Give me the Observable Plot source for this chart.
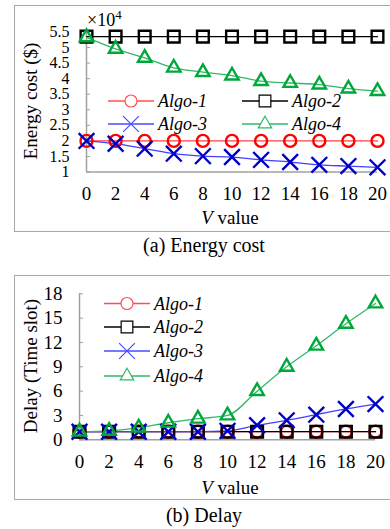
<!DOCTYPE html>
<html>
<head>
<meta charset="utf-8">
<script src="https://cdn.jsdelivr.net/npm/d3@7"></script>
<script src="https://cdn.jsdelivr.net/npm/@observablehq/plot@0.6"></script>
<style>
  html, body { margin: 0; padding: 0; background: #fff; }
  body { width: 390px; height: 529px; position: relative; overflow: hidden; font-family: "Liberation Serif", "DejaVu Serif", serif; }
  .frame { position: absolute; left: 14px; width: 420px; border: 1.5px solid #a8a8a8; box-sizing: border-box; }
  .cap { position: absolute; left: 0; width: 408px; text-align: center; font-size: 20px; line-height: 1; }
  .chart { position: absolute; left: 0; }
  .chart svg text { font-family: "Liberation Serif", "DejaVu Serif", serif; }
</style>
</head>
<body>
<div class="frame" style="top:5px;height:227px;"></div>
<div class="frame" style="top:275px;height:225px;"></div>
<div id="a" class="chart" style="top:0px;"></div>
<div id="b" class="chart" style="top:260px;"></div>
<div class="cap" style="top:235px;">(a) Energy cost</div>
<div class="cap" style="top:505px;">(b) Delay</div>
<script>
// ---- data ----
const V = [0, 2, 4, 6, 8, 10, 12, 14, 16, 18, 20];
const seriesNames = ["Algo-1", "Algo-2", "Algo-3", "Algo-4"];
// Energy cost (x10^4 $)
const energyAlgo1 = [2.0, 2.0, 2.0, 2.0, 2.0, 2.0, 2.0, 2.0, 2.0, 2.0, 2.0];
const energyAlgo2 = [5.35, 5.35, 5.35, 5.35, 5.35, 5.35, 5.35, 5.35, 5.35, 5.35, 5.35];
const energyAlgo3 = [2.0, 1.91, 1.75, 1.59, 1.51, 1.48, 1.39, 1.32, 1.23, 1.19, 1.15];
const energyAlgo4 = [5.33, 4.96, 4.67, 4.35, 4.21, 4.10, 3.92, 3.86, 3.81, 3.68, 3.60];
// Delay (time slot)
const delayAlgo1 = [1, 1, 1, 1, 1, 1, 1, 1, 1, 1, 1];
const delayAlgo2 = [1, 1, 1, 1, 1, 1, 1, 1, 1, 1, 1];
const delayAlgo3 = [1, 1, 1, 1, 1, 1.1, 1.8, 2.4, 3.1, 3.8, 4.4];
const delayAlgo4 = [1, 1.1, 1.5, 2.1, 2.6, 3.0, 6.0, 9.0, 11.6, 14.3, 16.8];
// tick labels
const vTicks = [0, 2, 4, 6, 8, 10, 12, 14, 16, 18, 20];
const energyTicks = [1, 1.5, 2, 2.5, 3, 3.5, 4, 4.5, 5, 5.5];
const delayTicks = [0, 3, 6, 9, 12, 15, 18];

// ---- styles ----
const styles = {
  "Algo-1": {symbol: "circle", r: 6, line: "#ff4040", mark: "#ff0000", legend: "#ff5050"},
  "Algo-2": {symbol: "square", r: 6.6, line: "#000000", mark: "#000000", legend: "#000000"},
  "Algo-3": {symbol: "times", r: 7.2, line: "#4040ff", mark: "#0000c8", legend: "#4a4aff"},
  "Algo-4": {symbol: "triangle", r: 5.0, line: "#30b868", mark: "#00a83c", legend: "#30b868"}
};

function rows(vals) { return V.map((v, i) => ({v, y: vals[i]})); }

function seriesMarks(list) {
  const marks = [];
  list.forEach(([name, vals]) => {
    const s = styles[name];
    marks.push(Plot.line(rows(vals), {x: "v", y: "y", stroke: s.line, strokeWidth: 1.3, curve: "monotone-x"}));
  });
  list.forEach(([name, vals]) => {
    const s = styles[name];
    marks.push(Plot.dot(rows(vals), {x: "v", y: "y", symbol: s.symbol, r: s.r, stroke: s.mark, strokeWidth: 2.4, fill: "none"}));
  });
  return marks;
}

const font = "Liberation Serif";

function addLegend(svg, items) {
  const g = d3.select(svg).append("g");
  items.forEach(it => {
    const s = styles[it.name];
    g.append("line").attr("x1", it.x).attr("x2", it.x + 46).attr("y1", it.y).attr("y2", it.y)
      .attr("stroke", s.legend).attr("stroke-width", 1.3);
    const sym = {circle: d3.symbolCircle, square: d3.symbolSquare, times: d3.symbolTimes, triangle: d3.symbolTriangle}[s.symbol];
    g.append("path").attr("d", d3.symbol(sym, Math.PI * s.r * s.r)())
      .attr("transform", `translate(${it.x + 23},${it.y})`)
      .attr("fill", "#fff").attr("stroke", s.legend).attr("stroke-width", 1.2);
    g.append("text").attr("x", it.x + 50).attr("y", it.y).attr("dy", "0.35em")
      .attr("text-anchor", "start")
      .attr("font-size", 18).attr("font-style", "italic").text(it.name);
  });
}

function addText(svg, opts) {
  const t = d3.select(svg).append("text")
    .attr("font-size", opts.size || 19)
    .attr("text-anchor", opts.anchor || "middle")
    .attr("transform", `translate(${opts.x},${opts.y}) rotate(${opts.rotate || 0})`)
    .attr("dy", "0.35em");
  opts.parts.forEach(p => {
    const ts = t.append("tspan").text(p.text);
    if (p.italic) ts.attr("font-style", "italic");
    if (p.sup) ts.attr("font-size", 13).attr("dy", "-0.6em");
  });
  return t;
}

const axisStyle = {fontFamily: font, fontSize: "19px", background: "transparent", color: "#000", overflow: "visible"};

// ---- chart (a) ----
const chartA = Plot.plot({
  width: 390, height: 232,
  marginLeft: 86, marginRight: 13, marginTop: 31.5, marginBottom: 60.5,
  style: axisStyle,
  x: {domain: [0, 20]},
  y: {domain: [1, 5.5]},
  marks: [
    Plot.ruleY([1], {stroke: "#a0a0a0", strokeWidth: 1.5}),
    Plot.ruleX([0], {stroke: "#a0a0a0", strokeWidth: 1.5}),
    Plot.axisY({ticks: energyTicks, tickSize: -4, stroke: "#a0a0a0", text: null, label: null}),
    Plot.axisX({ticks: vTicks, tickSize: 0, tickPadding: 14, label: null, fontFamily: font, tickFormat: d => String(d)}),
    Plot.axisY({ticks: energyTicks, tickSize: 0, tickPadding: 17, label: null, fontSize: 16, fontFamily: font, tickFormat: d => String(d)}),
    ...seriesMarks([["Algo-1", energyAlgo1], ["Algo-2", energyAlgo2], ["Algo-3", energyAlgo3], ["Algo-4", energyAlgo4]])
  ]
});
addLegend(chartA, [
  {name: "Algo-1", x: 108, y: 101},
  {name: "Algo-2", x: 242, y: 101},
  {name: "Algo-3", x: 108, y: 124},
  {name: "Algo-4", x: 242, y: 124}
]);
addText(chartA, {x: 30, y: 101, rotate: -90, size: 19, parts: [{text: "Energy cost ($)"}]});
addText(chartA, {x: 230, y: 217, parts: [{text: "V", italic: true}, {text: " value"}]});
addText(chartA, {x: 87, y: 20, anchor: "start", size: 18, parts: [{text: "×10"}, {text: "4", sup: true}]});
document.getElementById("a").append(chartA);

// ---- chart (b) ----
const chartB = Plot.plot({
  width: 390, height: 260,
  marginLeft: 79, marginRight: 15, marginTop: 33.3, marginBottom: 80.7,
  style: axisStyle,
  x: {domain: [0, 20]},
  y: {domain: [0, 18]},
  marks: [
    Plot.ruleY([0], {stroke: "#a0a0a0", strokeWidth: 1.5}),
    Plot.ruleX([0], {stroke: "#a0a0a0", strokeWidth: 1.5}),
    Plot.axisY({ticks: delayTicks, tickSize: -4, stroke: "#a0a0a0", text: null, label: null}),
    Plot.axisX({ticks: vTicks, tickSize: 0, tickPadding: 15, label: null, fontFamily: font, tickFormat: d => String(d)}),
    Plot.axisY({ticks: delayTicks, tickSize: 0, tickPadding: 17, label: null, fontFamily: font, tickFormat: d => String(d)}),
    ...seriesMarks([["Algo-1", delayAlgo1], ["Algo-2", delayAlgo2], ["Algo-3", delayAlgo3], ["Algo-4", delayAlgo4]])
  ]
});
addLegend(chartB, [
  {name: "Algo-1", x: 104, y: 43.5},
  {name: "Algo-2", x: 104, y: 67},
  {name: "Algo-3", x: 104, y: 91},
  {name: "Algo-4", x: 104, y: 116}
]);
addText(chartB, {x: 30, y: 106, rotate: -90, size: 19, parts: [{text: "Delay (Time slot)"}]});
addText(chartB, {x: 230, y: 227, parts: [{text: "V", italic: true}, {text: " value"}]});
document.getElementById("b").append(chartB);
</script>
</body>
</html>
